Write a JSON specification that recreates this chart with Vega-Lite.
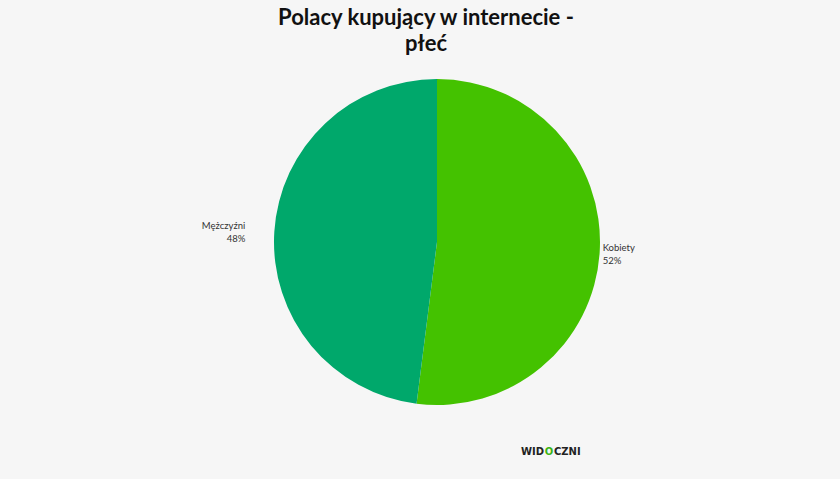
{
  "$schema": "https://vega.github.io/schema/vega-lite/v6.json",
  "width": 800,
  "height": 358,
  "padding": {"left": 37, "right": 3, "top": 7, "bottom": 22},
  "background": "#f6f6f6",
  "title": {
    "text": ["Polacy kupujący w internecie -", "płeć"],
    "font": "Lato",
    "fontSize": 22,
    "fontWeight": "bold",
    "color": "#111111",
    "lineHeight": 26,
    "anchor": "middle",
    "dx": -11,
    "offset": 7
  },
  "view": {"stroke": null},
  "data": {
    "values": [
      {"cat": "Kobiety", "value": 52, "label": "Kobiety\n52%"},
      {"cat": "Mężczyźni", "value": 48, "label": "Mężczyźni\n48%"}
    ]
  },
  "layer": [
    {
      "mark": {"type": "arc", "radius": 163, "stroke": null},
      "encoding": {
        "theta": {"field": "value", "type": "quantitative", "stack": true},
        "color": {
          "field": "cat",
          "type": "nominal",
          "scale": {"domain": ["Kobiety", "Mężczyźni"], "range": ["#44c200", "#00a86b"]},
          "legend": null
        }
      }
    },
    {
      "mark": {
        "type": "text",
        "lineBreak": "\n",
        "radius": {"expr": "datum.cat === 'Kobiety' ? 166 : 192"},
        "align": {"expr": "datum.cat === 'Kobiety' ? 'left' : 'right'"},
        "baseline": "middle",
        "dy": -4,
        "fontSize": 9.5,
        "font": "Lato",
        "color": "#333333",
        "lineHeight": 13
      },
      "encoding": {
        "theta": {"field": "value", "type": "quantitative", "stack": true},
        "detail": {"field": "cat", "type": "nominal"},
        "text": {"field": "label", "type": "nominal"}
      }
    },
    {
      "data": {"values": [{"a": "WID", "b": "O", "c": "CZNI"}]},
      "layer": [
        {
          "mark": {"type": "text", "align": "right", "baseline": "middle", "dx": 107, "dy": 210, "fontSize": 10, "fontWeight": "bold", "font": "DejaVu Sans", "color": "#222222"},
          "encoding": {"text": {"field": "a", "type": "nominal"}}
        },
        {
          "mark": {"type": "text", "align": "center", "baseline": "middle", "dx": 112, "dy": 210, "fontSize": 10, "fontWeight": "bold", "font": "DejaVu Sans", "color": "#3cb515"},
          "encoding": {"text": {"field": "b", "type": "nominal"}}
        },
        {
          "mark": {"type": "text", "align": "left", "baseline": "middle", "dx": 117, "dy": 210, "fontSize": 10, "fontWeight": "bold", "font": "DejaVu Sans", "color": "#222222"},
          "encoding": {"text": {"field": "c", "type": "nominal"}}
        }
      ]
    }
  ]
}
